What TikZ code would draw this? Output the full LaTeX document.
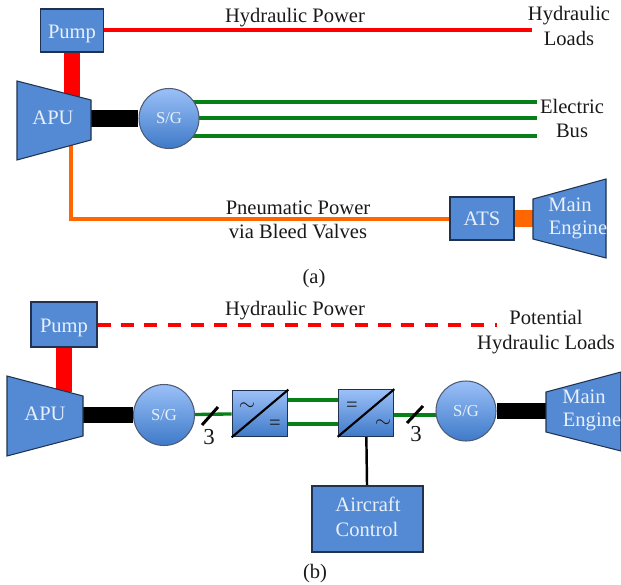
\documentclass[tikz,border=0pt]{standalone}
\usepackage{fontspec}
\setmainfont{Liberation Serif}
\usetikzlibrary{backgrounds}
\definecolor{blockblue}{RGB}{84,138,212}
\definecolor{shadetop}{RGB}{155,192,248}
\definecolor{shadebot}{RGB}{62,122,200}
\definecolor{edgeblue}{RGB}{32,50,80}
\definecolor{busgreen}{RGB}{8,128,24}
\definecolor{pipeorange}{RGB}{255,102,0}
\definecolor{labelwhite}{RGB}{232,240,250}
\tikzset{
  block/.style={draw=edgeblue, line width=0.7pt, fill=blockblue, text=labelwhite, align=center, inner sep=0pt, text depth=0pt},
  pumpbox/.style={block, text height=9.4pt},
  gensg/.style={circle, draw=edgeblue!80, line width=0.6pt, top color=shadetop, bottom color=shadebot, text=labelwhite, minimum size=1.2cm, inner sep=0pt, font=\fontsize{9.5}{11}\selectfont},
  convbox/.style={draw=edgeblue, line width=0.7pt, top color=shadetop, bottom color=shadebot, minimum width=1.11cm, minimum height=0.93cm, inner sep=0pt},
  turbine/.style={draw=edgeblue, line width=0.6pt, fill=blockblue},
  blocktext/.style={text=labelwhite, align=center, inner sep=0pt},
  plaintext/.style={align=center, inner sep=0pt, text=black!90},
  shaftline/.style={line width=9.6pt},
  hydthin/.style={red, line width=2pt},
  busline/.style={busgreen, line width=1.9pt},
  airline/.style={pipeorange, line width=1.8pt},
  slashmark/.style={line width=1.7pt},
}
\begin{document}
\begin{tikzpicture}[x=0.02cm, y=-0.02cm, every node/.style={font=\fontsize{11.7}{13.8}\selectfont}]
  \useasboundingbox (0,0) rectangle (621,584);

  % upper part
  \node[pumpbox, minimum width=1.27cm, minimum height=0.86cm] (pumpa) at (72,30.5) {Pump};
  \node[gensg] (sga) at (169,118.5) {S/G};
  \node[block, minimum width=1.28cm, minimum height=0.86cm] (atsa) at (482,218.5) {ATS};

  \coordinate (apua1) at (17,81);
  \coordinate (apua2) at (91,100);
  \coordinate (apua3) at (91,140);
  \coordinate (apua4) at (17,160);
  \coordinate (enga1) at (533,199);
  \coordinate (enga2) at (606,179);
  \coordinate (enga3) at (606,258);
  \coordinate (enga4) at (533,239);
  \draw[turbine] (apua1) -- (apua2) -- (apua3) -- (apua4) -- cycle;
  \draw[turbine] (enga1) -- (enga2) -- (enga3) -- (enga4) -- cycle;
  \node[blocktext] (apua) at (53,118) {APU};
  \node[blocktext] (mainatxt) at (570,205) {Main};
  \node[blocktext] (engatxt) at (578,230) {Engine};

  \coordinate (loada) at (532,30);
  \coordinate (busa1) at (537,102);
  \coordinate (busa2) at (537,118);
  \coordinate (busa3) at (537,136);
  \coordinate (benda) at (71,219);
  \coordinate (shafta) at (72,98);
  \coordinate (pipea) at (71,140);

  \begin{pgfonlayer}{background}
    \draw[red, shaftline] (pumpa.south) -- (shafta);
    \draw[shaftline] (apua2 |- sga) -- (sga);
    \draw[hydthin] (pumpa.east |- loada) -- (loada);
    \draw[busline] (busa1 -| sga) -- (busa1);
    \draw[busline] (busa2 -| sga) -- (busa2);
    \draw[busline] (busa3 -| sga) -- (busa3);
    \draw[airline] (pipea) -- (benda) -- (benda -| atsa.west);
    \draw[pipeorange, shaftline] (atsa) -- (enga1 |- atsa);
  \end{pgfonlayer}

  \node[plaintext] (hydpowa) at (295,18) {Hydraulic Power};
  \node[plaintext] (hydloada) at (569,26) {Hydraulic\\Loads};
  \node[plaintext] (elbus) at (572,118.5) {Electric\\Bus};
  \node[plaintext] (pneu) at (298,220) {Pneumatic Power\\via Bleed Valves};
  \node[plaintext] (capa) at (314,279) {(a)};

  % lower part
  \node[pumpbox, minimum width=1.32cm, minimum height=0.9cm] (pumpb) at (64,324.5) {Pump};
  \node[gensg, minimum size=1.22cm] (sgb) at (164,415) {S/G};
  \node[gensg, minimum size=1.2cm] (sgc) at (466,411) {S/G};
  \node[convbox] (conva) at (260,413.5) {};
  \node[convbox] (convb) at (366,413) {};
  \node[block, minimum width=2.22cm, minimum height=1.32cm] (ctrl) at (367.5,519) {};

  \coordinate (apub1) at (7,376);
  \coordinate (apub2) at (83,396);
  \coordinate (apub3) at (83,436);
  \coordinate (apub4) at (7,456);
  \coordinate (engb1) at (546,392);
  \coordinate (engb2) at (621,372);
  \coordinate (engb3) at (621,451);
  \coordinate (engb4) at (546,432);
  \draw[turbine] (apub1) -- (apub2) -- (apub3) -- (apub4) -- cycle;
  \draw[turbine] (engb1) -- (engb2) -- (engb3) -- (engb4) -- cycle;
  \node[blocktext] (apub) at (45,414) {APU};
  \node[blocktext] (mainbtxt) at (584,397) {Main};
  \node[blocktext] (engbtxt) at (592,422) {Engine};
  \node[blocktext] (ctrla) at (368,504) {Aircraft};
  \node[blocktext] (ctrlb) at (367,529) {Control};

  \coordinate (loadb) at (497,325);
  \coordinate (shaftb) at (64,392);
  \coordinate (dca) at (0,400);
  \coordinate (dcb) at (0,424);
  \coordinate (aca) at (0,415);
  \coordinate (slasha1) at (202,425);
  \coordinate (slasha2) at (218,407);
  \coordinate (slashb1) at (407,423);
  \coordinate (slashb2) at (423,406);

  \begin{pgfonlayer}{background}
    \draw[red, shaftline] (pumpb.south) -- (shaftb);
    \draw[shaftline] (apub2 |- sgb) -- (sgb);
    \draw[shaftline] (sgc) -- (engb1 |- sgc);
    \draw[hydthin, line width=2.3pt, dash pattern=on 7.4pt off 5.9pt] (pumpb.east |- loadb) -- (loadb);
    \draw[busline] (sgb) -- (conva);
    \draw[busline] (conva |- dca) -- (convb |- dca);
    \draw[busline] (conva |- dcb) -- (convb |- dcb);
    \draw[busline] (convb.east |- aca) -- (aca -| sgc);
    \draw[line width=1.4pt] (convb) -- (ctrl);
  \end{pgfonlayer}

  \draw[line width=1.2pt] (conva.south west) -- (conva.north east);
  \draw[line width=1.2pt] (convb.south west) -- (convb.north east);
  \node[plaintext] (acsym1) at (247,407) {$\sim$};
  \node[plaintext] (dcsym1) at (275,425) {=};
  \node[plaintext] (dcsym2) at (352,407) {=};
  \node[plaintext] (acsym2) at (383,424) {$\sim$};

  \draw[slashmark] (slasha1) -- (slasha2);
  \draw[slashmark] (slashb1) -- (slashb2);
  \node[plaintext, font=\fontsize{13}{15}\selectfont] (threea) at (209,437) {3};
  \node[plaintext, font=\fontsize{13}{15}\selectfont] (threeb) at (416,434) {3};

  \node[plaintext] (hydpowb) at (295,311) {Hydraulic Power};
  \node[plaintext] (hydloadb) at (546,332) {Potential\\Hydraulic Loads};
  \node[plaintext] (capb) at (315,574) {(b)};
\end{tikzpicture}
\end{document}
